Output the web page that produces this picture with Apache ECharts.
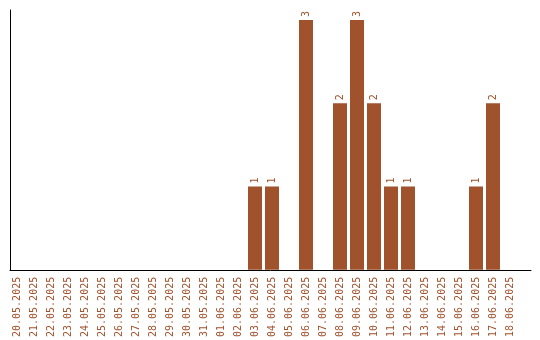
<!DOCTYPE html>
<html>
<head>
<meta charset="utf-8">
<script src="https://cdn.jsdelivr.net/npm/echarts@6/dist/echarts.min.js"></script>
<style>html,body{margin:0;padding:0;background:#fff}#c{width:540px;height:340px}</style>
</head>
<body>
<div id="c"></div>
<script>
const categories = ["20.05.2025","21.05.2025","22.05.2025","23.05.2025","24.05.2025","25.05.2025","26.05.2025","27.05.2025","28.05.2025","29.05.2025","30.05.2025","31.05.2025","01.06.2025","02.06.2025","03.06.2025","04.06.2025","05.06.2025","06.06.2025","07.06.2025","08.06.2025","09.06.2025","10.06.2025","11.06.2025","12.06.2025","13.06.2025","14.06.2025","15.06.2025","16.06.2025","17.06.2025","18.06.2025"];
const values = [0,0,0,0,0,0,0,0,0,0,0,0,0,0,1,1,0,3,0,2,3,2,1,1,0,0,0,1,2,0];

const brown = '#A0522D';
const font = '"DejaVu Sans Mono", monospace';
const chart = echarts.init(document.getElementById('c'), null, {renderer: 'canvas'});
chart.setOption({
  animation: false,
  grid: [
    {left: 8.5, right: 21.5, top: 10, bottom: 70},
    {left: 10, right: 9, top: 10, bottom: 70}
  ],
  xAxis: [
    {type: 'category', gridIndex: 0, data: categories,
     axisLine: {show: false}, axisTick: {show: false},
     axisLabel: {rotate: 90, interval: 0, margin: 7, color: brown, fontFamily: font, fontSize: 10}},
    {type: 'value', gridIndex: 1, min: 0, max: 1,
     axisLine: {show: true, lineStyle: {color: '#000', width: 1}},
     axisTick: {show: false}, axisLabel: {show: false}, splitLine: {show: false}}
  ],
  yAxis: [
    {type: 'value', gridIndex: 0, min: 0, max: 3.12,
     axisLine: {show: false}, axisTick: {show: false}, axisLabel: {show: false}, splitLine: {show: false}},
    {type: 'value', gridIndex: 1, min: 0, max: 1,
     axisLine: {show: true, lineStyle: {color: '#000', width: 1}},
     axisTick: {show: false}, axisLabel: {show: false}, splitLine: {show: false}}
  ],
  series: [{
    type: 'bar', xAxisIndex: 0, yAxisIndex: 0, data: values, barWidth: 14,
    itemStyle: {color: brown},
    label: {show: true, position: 'top', rotate: 90, align: 'left', verticalAlign: 'middle', distance: 3,
            color: brown, fontFamily: font, fontSize: 10,
            formatter: p => p.value ? String(p.value) : ''}
  }]
});
</script>
</body>
</html>
